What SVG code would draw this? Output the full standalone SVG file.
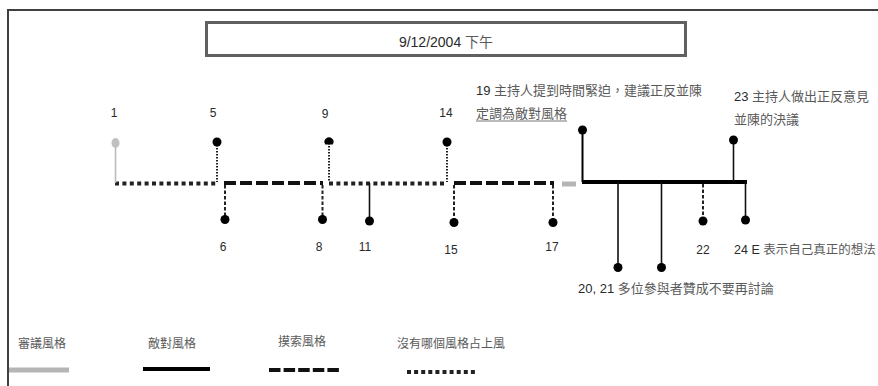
<svg xmlns="http://www.w3.org/2000/svg" width="878" height="386" viewBox="0 0 878 386">
<style>
.num{font-family:"Liberation Sans","Noto Sans CJK TC",sans-serif;font-size:12px;fill:#2a2a2a}
.cjk{font-family:"Noto Sans CJK TC",sans-serif;fill:#5a5a5a}
.lbl{font-family:"Liberation Sans","Noto Sans CJK TC",sans-serif;font-size:13px;fill:#2a2a2a}
.leg{font-family:"Noto Sans CJK TC",sans-serif;font-size:12px;fill:#5a5a5a}
.dot{stroke:#222;stroke-width:4;stroke-dasharray:4 3.4;fill:none}
.dash{stroke:#111;stroke-width:4;stroke-dasharray:12 4;fill:none}
.solid{stroke:#000;stroke-width:4;fill:none}
.gray{stroke:#b5b5b5;stroke-width:5;fill:none}
.stemdot{stroke:#222;stroke-width:2;stroke-dasharray:1.5 1.5;fill:none}
.stemdash{stroke:#222;stroke-width:2;stroke-dasharray:3.5 2;fill:none}
.stem{stroke:#111;stroke-width:1.6;fill:none}
.mk{fill:#000}
</style>
<rect width="878" height="386" fill="#fff"/>
<path d="M7,10 H878 M8,10 V386" stroke="#404040" stroke-width="2" fill="none"/>
<g id="title">
<rect x="206.5" y="22.5" width="479" height="33" fill="#fff" stroke="#606060" stroke-width="3"/>
<text x="446" y="47" text-anchor="middle" class="num" style="font-size:14px">9/12/2004 <tspan class="cjk" fill="#777">下午</tspan></text>
</g>
<g id="connectors">
<line class="dot" x1="115" y1="183.5" x2="218" y2="183.5"/>
<line class="dash" x1="224" y1="183" x2="323" y2="183"/>
<line class="dot" x1="329" y1="183.5" x2="447" y2="183.5"/>
<line class="dash" x1="454" y1="183" x2="554" y2="183"/>
<line class="gray" x1="562" y1="184" x2="576" y2="184"/>
<line class="solid" x1="582" y1="182" x2="747" y2="182"/>
</g>
<g id="node1">
<line x1="115.5" y1="143" x2="115.5" y2="183" stroke="#bbb" stroke-width="1.6"/>
<ellipse cx="115.5" cy="143" rx="4" ry="5" fill="#c0c0c0"/>
<text x="114" y="117" text-anchor="middle" class="num">1</text>
</g>
<g id="node5">
<line class="stemdot" x1="217" y1="142" x2="217" y2="182"/>
<circle class="mk" cx="217" cy="142" r="4.5"/>
<text x="213" y="117" text-anchor="middle" class="num">5</text>
</g>
<g id="node6">
<line class="stemdash" x1="225" y1="185" x2="225" y2="219"/>
<circle class="mk" cx="225" cy="219.5" r="4.5"/>
<text x="223" y="251" text-anchor="middle" class="num">6</text>
</g>
<g id="node8">
<line class="stemdash" x1="322.5" y1="185" x2="322.5" y2="219"/>
<circle class="mk" cx="322.5" cy="219.5" r="4.5"/>
<text x="319" y="251" text-anchor="middle" class="num">8</text>
</g>
<g id="node9">
<line class="stemdot" x1="329" y1="143" x2="329" y2="182"/>
<path class="mk" d="M325.3,144.5 A4.5,4.5 0 1 1 332.7,144.5 Z"/>
<text x="325" y="118" text-anchor="middle" class="num">9</text>
</g>
<g id="node11">
<line class="stem" x1="369.5" y1="183" x2="369.5" y2="221"/>
<circle class="mk" cx="369.5" cy="221" r="4.5"/>
<text x="365" y="251" text-anchor="middle" class="num">11</text>
</g>
<g id="node14">
<line class="stemdot" x1="447" y1="142" x2="447" y2="182"/>
<circle class="mk" cx="447" cy="142" r="4.5"/>
<text x="446" y="117" text-anchor="middle" class="num">14</text>
</g>
<g id="node15">
<line class="stemdash" x1="454" y1="185" x2="454" y2="222"/>
<circle class="mk" cx="454" cy="222.5" r="4.5"/>
<text x="451" y="254" text-anchor="middle" class="num">15</text>
</g>
<g id="node17">
<line class="stemdash" x1="553" y1="185" x2="553" y2="222"/>
<circle class="mk" cx="553" cy="222.5" r="4.5"/>
<text x="552" y="251" text-anchor="middle" class="num">17</text>
</g>
<g id="node19">
<line x1="582.5" y1="130" x2="582.5" y2="182" stroke="#000" stroke-width="2"/>
<circle class="mk" cx="582.5" cy="130" r="4.5"/>
<text x="476" y="95" class="lbl">19 <tspan class="cjk">主持人提到時間緊迫，建議正反並陳</tspan></text>
<text x="476" y="118" class="lbl"><tspan class="cjk">定調為敵對風格</tspan></text>
<line x1="476" y1="121" x2="567" y2="121" stroke="#777" stroke-width="1"/>
</g>
<g id="node20">
<line class="stem" x1="618" y1="182" x2="618" y2="267.5"/>
<circle class="mk" cx="618" cy="267.5" r="4.5"/>
</g>
<g id="node21">
<line class="stem" x1="661.5" y1="182" x2="661.5" y2="267.5"/>
<circle class="mk" cx="661.5" cy="267.5" r="4.5"/>
<text x="578" y="293" class="lbl">20, 21 <tspan class="cjk">多位參與者贊成不要再討論</tspan></text>
</g>
<g id="node22">
<line class="stemdash" x1="703" y1="184" x2="703" y2="221"/>
<circle class="mk" cx="703" cy="221" r="4.5"/>
<text x="703" y="254" text-anchor="middle" class="num">22</text>
</g>
<g id="node23">
<line class="stem" x1="733.5" y1="140" x2="733.5" y2="182"/>
<circle class="mk" cx="733.5" cy="140" r="4.5"/>
<text x="734" y="101" class="lbl">23 <tspan class="cjk">主持人做出正反意見</tspan></text>
<text x="734" y="124" class="lbl"><tspan class="cjk">並陳的決議</tspan></text>
</g>
<g id="node24">
<line class="stem" x1="745.5" y1="182" x2="745.5" y2="220"/>
<circle class="mk" cx="745.5" cy="220" r="4.5"/>
<text x="734" y="254" class="lbl" style="font-size:12.5px">24 E <tspan class="cjk">表示自己真正的想法</tspan></text>
</g>
<g id="legend">
<text x="18" y="348" class="leg">審議風格</text>
<line class="gray" x1="9" y1="370" x2="69" y2="370"/>
<text x="148" y="348" class="leg">敵對風格</text>
<line class="solid" x1="143" y1="369" x2="210" y2="369"/>
<text x="278" y="346" class="leg">摸索風格</text>
<line class="dash" x1="269" y1="370" x2="339" y2="370" style="stroke-dasharray:11.5 3.1"/>
<text x="397" y="348" class="leg">沒有哪個風格占上風</text>
<line class="dot" x1="407" y1="372" x2="477" y2="372" style="stroke-dasharray:4 3.1"/>
</g>
</svg>
